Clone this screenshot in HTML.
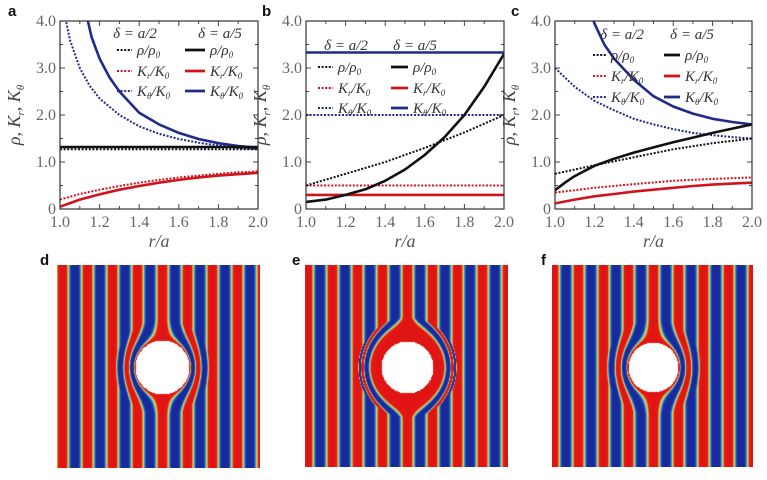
<!DOCTYPE html>
<html><head><meta charset="utf-8">
<style>
html,body{margin:0;padding:0;background:#fff;width:767px;height:480px;overflow:hidden;position:relative}
svg{position:absolute;left:0;top:0}
canvas{position:absolute}
.pl{position:absolute;font-family:"Liberation Sans",sans-serif;font-weight:bold;font-size:15px;color:#111}
</style></head><body>
<svg id="charts" width="767" height="480"></svg>
<canvas id="hd" width="203" height="203" style="left:57px;top:265px"></canvas>
<canvas id="he" width="203" height="202" style="left:305px;top:265px"></canvas>
<canvas id="hf" width="201" height="202" style="left:552px;top:265px"></canvas>
<div class="pl" style="left:8px;top:3px">a</div>
<div class="pl" style="left:262px;top:3px">b</div>
<div class="pl" style="left:511px;top:3px">c</div>
<div class="pl" style="left:40px;top:252px">d</div>
<div class="pl" style="left:292px;top:252px">e</div>
<div class="pl" style="left:541px;top:252px">f</div>
<script>
// ---- data ----
const yTickLabels = ["0","1.0","2.0","3.0","4.0"];
const yTickValues = [0,1,2,3,4];
const xTickLabels = ["1.0","1.2","1.4","1.6","1.8","2.0"];
const xTickValues = [1.0,1.2,1.4,1.6,1.8,2.0];
// panel a
const aRhoSolidR = [1.0,2.0], aRhoSolid = [1.32,1.32];
const aRhoDotR = [1.0,2.0], aRhoDot = [1.27,1.27];
const aKrSolidR = [1.0,1.1,1.2,1.3,1.4,1.5,1.6,1.7,1.8,1.9,2.0];
const aKrSolid = [0.05,0.2,0.31,0.41,0.49,0.56,0.62,0.67,0.71,0.74,0.77];
const aKrDotR = [1.0,1.1,1.2,1.3,1.4,1.5,1.6,1.7,1.8,1.9,2.0];
const aKrDot = [0.2,0.32,0.41,0.49,0.56,0.62,0.67,0.71,0.75,0.78,0.8];
const aKtSolidR = [1.13,1.16,1.2,1.25,1.3,1.4,1.5,1.6,1.7,1.8,1.9,2.0];
const aKtSolid = [4.2,3.65,3.2,2.8,2.5,2.05,1.8,1.62,1.49,1.4,1.34,1.3];
const aKtDotR = [1.02,1.05,1.1,1.15,1.2,1.3,1.4,1.5,1.6,1.7,1.8,1.9,2.0];
const aKtDot = [4.2,3.6,3.0,2.62,2.35,2.0,1.76,1.6,1.49,1.41,1.35,1.3,1.27];
// panel b
const bRhoSolidR = [1.0,1.1,1.2,1.3,1.4,1.5,1.6,1.7,1.8,1.9,2.0];
const bRhoSolid = [0.15,0.2,0.3,0.42,0.6,0.84,1.15,1.53,2.0,2.6,3.3];
const bRhoDotR = [1.0,1.2,1.4,1.6,1.8,2.0];
const bRhoDot = [0.5,0.75,1.0,1.3,1.63,2.0];
const bKrSolidR = [1.0,2.0], bKrSolid = [0.3,0.3];
const bKrDotR = [1.0,2.0], bKrDot = [0.5,0.5];
const bKtSolidR = [1.0,2.0], bKtSolid = [3.33,3.33];
const bKtDotR = [1.0,2.0], bKtDot = [2.0,2.0];
// panel c
const cRhoSolidR = [1.0,1.05,1.1,1.2,1.3,1.4,1.5,1.6,1.7,1.8,1.9,2.0];
const cRhoSolid = [0.4,0.56,0.7,0.92,1.07,1.2,1.31,1.42,1.52,1.62,1.71,1.8];
const cRhoDotR = [1.0,1.2,1.4,1.6,1.8,2.0];
const cRhoDot = [0.75,0.93,1.1,1.27,1.4,1.5];
const cKrSolidR = [1.0,1.1,1.2,1.3,1.4,1.5,1.6,1.7,1.8,1.9,2.0];
const cKrSolid = [0.12,0.2,0.27,0.32,0.37,0.41,0.45,0.49,0.52,0.54,0.56];
const cKrDotR = [1.0,1.2,1.4,1.6,1.8,2.0];
const cKrDot = [0.35,0.45,0.53,0.6,0.64,0.67];
const cKtSolidR = [1.18,1.2,1.25,1.3,1.4,1.5,1.6,1.7,1.8,1.9,2.0];
const cKtSolid = [4.2,3.95,3.5,3.2,2.75,2.4,2.18,2.03,1.92,1.85,1.8];
const cKtDotR = [1.0,1.1,1.2,1.3,1.4,1.5,1.6,1.7,1.8,1.9,2.0];
const cKtDot = [3.0,2.6,2.3,2.1,1.92,1.8,1.7,1.62,1.57,1.53,1.5];

const NS="http://www.w3.org/2000/svg";
const svg=document.getElementById('charts');
function mk(tag,attrs,parent){const e=document.createElementNS(NS,tag);for(const k in attrs)e.setAttribute(k,attrs[k]);(parent||svg).appendChild(e);return e;}
const BLACK="#111",RED="#d0141e",BLUE="#1f2a8a";
const panels=[
 {id:'a',L:60,R:258,T:21,B:209,
  series:[[aKtDotR,aKtDot,BLUE,1],[aKtSolidR,aKtSolid,BLUE,0],[aKrDotR,aKrDot,RED,1],[aKrSolidR,aKrSolid,RED,0],[aRhoDotR,aRhoDot,BLACK,1],[aRhoSolidR,aRhoSolid,BLACK,0]],
  leg:{hy:33,rows:[50,71,91],d:[117,132],s:[185,205],h1:135,h2:220}},
 {id:'b',L:306,R:504,T:21,B:209,
  series:[[bKtDotR,bKtDot,BLUE,1],[bKtSolidR,bKtSolid,BLUE,0],[bKrDotR,bKrDot,RED,1],[bKrSolidR,bKrSolid,RED,0],[bRhoDotR,bRhoDot,BLACK,1],[bRhoSolidR,bRhoSolid,BLACK,0]],
  leg:{hy:45,rows:[67,88,108],d:[318,333],s:[391,408],h1:346,h2:415}},
 {id:'c',L:555,R:752,T:21,B:209,
  series:[[cKtDotR,cKtDot,BLUE,1],[cKtSolidR,cKtSolid,BLUE,0],[cKrDotR,cKrDot,RED,1],[cKrSolidR,cKrSolid,RED,0],[cRhoDotR,cRhoDot,BLACK,1],[cRhoSolidR,cRhoSolid,BLACK,0]],
  leg:{hy:34,rows:[55,76,97],d:[593,606],s:[664,680],h1:622,h2:692}}
];
const serif='"Liberation Serif",serif';
const legLabels=[["ρ","/ρ","0"],["K","/K","0","r"],["K","/K","0","θ"]];
const legNames=['rho','kr','ktheta'];
const legColors=[BLACK,RED,BLUE];
panels.forEach(p=>{
  const g=mk('g',{});
  
  
  const xs=r=>p.L+(r-1)*(p.R-p.L);
  const ys=v=>p.B-v/4*(p.B-p.T);
  const cp=mk('clipPath',{id:'clip'+p.id},g);
  mk('rect',{x:p.L,y:p.T,width:p.R-p.L,height:p.B-p.T},cp);
  for(let i=0;i<=10;i++){const x=xs(1+i*0.1);const len=i%2?3:5;
    mk('line',{x1:x,y1:p.B,x2:x,y2:p.B-len,stroke:'#444','stroke-width':1},g);
    mk('line',{x1:x,y1:p.T,x2:x,y2:p.T+len,stroke:'#444','stroke-width':1},g);}
  for(let i=0;i<=8;i++){const y=ys(i*0.5);const len=i%2?3:5;
    mk('line',{x1:p.L,y1:y,x2:p.L+len,y2:y,stroke:'#444','stroke-width':1},g);
    mk('line',{x1:p.R,y1:y,x2:p.R-len,y2:y,stroke:'#444','stroke-width':1},g);}
  yTickValues.forEach((v,i)=>{const t=mk('text',{x:p.L-4,y:ys(v)+5,'text-anchor':'end','font-family':serif,'font-size':16,fill:'#666'},g);t.textContent=yTickLabels[i];
    });
  xTickValues.forEach((v,i)=>{const t=mk('text',{x:xs(v),y:p.B+18,'text-anchor':'middle','font-family':serif,'font-size':16,fill:'#666'},g);t.textContent=xTickLabels[i];
    });
  const xt=mk('text',{x:(p.L+p.R)/2,y:p.B+38,'text-anchor':'middle','font-family':serif,'font-style':'italic','font-size':18,fill:'#555'},g);
  xt.textContent='r/a';
  
  
  const yt=mk('text',{x:0,y:0,transform:`translate(${p.L-40},${(p.T+p.B)/2}) rotate(-90)`,'text-anchor':'middle','font-family':serif,'font-style':'italic','font-size':18,fill:'#444'},g);
  yt.innerHTML='ρ, K<tspan font-size="11" dy="4">r</tspan><tspan dy="-4">, K</tspan><tspan font-size="11" dy="4">θ</tspan>';
  
  
  const sg=mk('g',{'clip-path':`url(#clip${p.id})`},g);
  p.series.forEach(s=>{
    const pts=s[0].map((r,i)=>xs(r).toFixed(1)+','+ys(s[1][i]).toFixed(1)).join(' ');
    const pl=mk('polyline',{points:pts,fill:'none',stroke:s[2],'stroke-width':s[3]?2:2.6,'stroke-dasharray':s[3]?'2,1.6':'none','stroke-linejoin':'round'},sg);
    
    
  });
  const L=p.leg;
  [[L.h1,'a/2'],[L.h2,'a/5']].forEach(h=>{const t=mk('text',{x:h[0],y:L.hy+5,'text-anchor':'middle','font-family':serif,'font-style':'italic','font-size':15,fill:'#333'},g);
    t.innerHTML='δ = '+h[1];});
  L.rows.forEach((y,i)=>{
    [[L.d,1],[L.s,0]].forEach(sp=>{
      const ln=mk('line',{x1:sp[0][0],y1:y,x2:sp[0][1],y2:y,stroke:legColors[i],'stroke-width':sp[1]?2:2.8,'stroke-dasharray':sp[1]?'2,1.6':'none'},g);
      
      
      const t=mk('text',{x:sp[0][1]+5,y:y+5,'font-family':serif,'font-style':'italic','font-size':15,fill:'#333'},g);
      const lb=legLabels[i];
      t.innerHTML=lb.length===3?'ρ/ρ<tspan font-size="9" dy="3">0</tspan>':'K<tspan font-size="9" dy="3">'+lb[3]+'</tspan><tspan dy="-3">/K</tspan><tspan font-size="9" dy="3">0</tspan>';
      
      
    });
  });
  mk('rect',{x:p.L,y:p.T,width:p.R-p.L,height:p.B-p.T,fill:'none',stroke:'#333','stroke-width':1.2},g);
});

// ---- field maps ----
const fieldPeriod=[25,25,25];
const fieldInner=[27,26,25];
const fieldOuter=[48,50,48];
const fieldPower=[0.75,3.0,0.8];
function jet(t){
  const st=[[0,[25,40,150]],[0.3,[25,45,160]],[0.42,[40,120,210]],[0.48,[90,210,220]],[0.54,[240,225,60]],[0.62,[235,120,30]],[0.68,[225,25,25]],[1,[225,20,20]]];
  for(let i=1;i<st.length;i++){if(t<=st[i][0]){const a=st[i-1],b=st[i],f=(t-a[0])/(b[0]-a[0]);return a[1].map((c,k)=>c+(b[1][k]-c)*f);}}
  return st[st.length-1][1];}
[['hd',105,102],['he',102,102],['hf',101,102]].forEach((h,idx)=>{
  const cv=document.getElementById(h[0]);const ctx=cv.getContext('2d');
  const W=cv.width,H=cv.height,img=ctx.createImageData(W,H);
  const a=fieldInner[idx],b=fieldOuter[idx],P=fieldPeriod[idx],pw=fieldPower[idx];
  for(let y=0;y<H;y++)for(let x=0;x<W;x++){
    const dx=x-h[1],dy=y-h[2],r=Math.hypot(dx,dy);let X=dx;
    const o=(y*W+x)*4;
    if(r<a){img.data[o]=255;img.data[o+1]=255;img.data[o+2]=255;img.data[o+3]=255;continue;}
    if(r<b){const rp=b*Math.pow((r-a)/(b-a),pw);X=dx/r*rp;}
    let ph=((X/P)%1+1)%1; // 0..1
    const t=1-2*Math.min(ph,1-ph); // triangle: 1 at ph=0 (red), 0 at ph=.5 (blue)
    const col=jet(t);
    img.data[o]=col[0];img.data[o+1]=col[1];img.data[o+2]=col[2];img.data[o+3]=255;}
  ctx.putImageData(img,0,0);
});
</script>
</body></html>
